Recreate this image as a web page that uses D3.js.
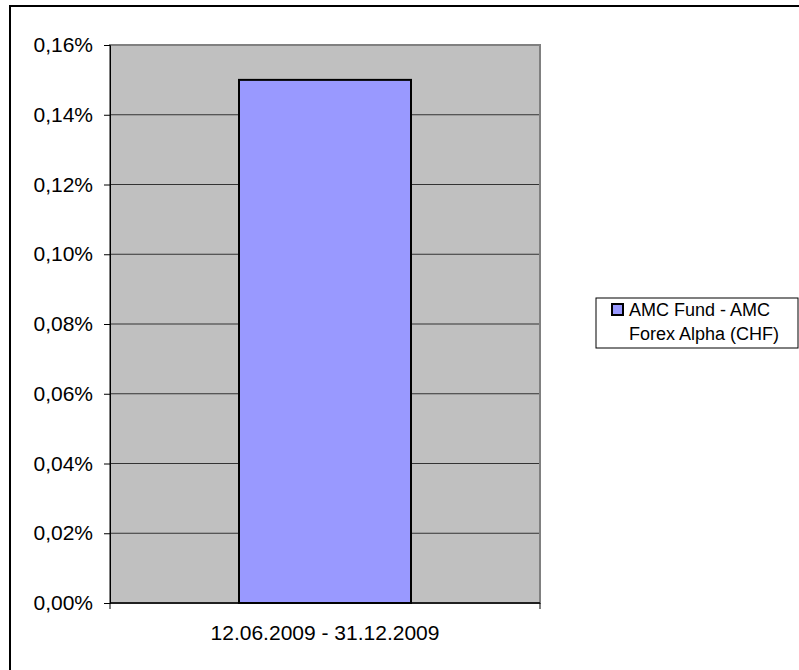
<!DOCTYPE html>
<html>
<head>
<meta charset="utf-8">
<script src="https://cdn.jsdelivr.net/npm/d3@7"></script>
<style>
  body { margin: 0; background: #fff; }
  svg { display: block; font-family: "Liberation Sans", Arial, sans-serif; }
</style>
</head>
<body>
<div id="chart"></div>
<script>
// chart data
var categories = ["12.06.2009 - 31.12.2009"];
var seriesName = ["AMC Fund - AMC", "Forex Alpha (CHF)"];
var values = [0.0015];
var yTicks = [0, 0.0002, 0.0004, 0.0006, 0.0008, 0.001, 0.0012, 0.0014, 0.0016];

var width = 799,
    height = 670;

var plot = {left: 110, right: 540, top: 45, bottom: 603};

var svg = d3.select("#chart").append("svg")
    .attr("width", width)
    .attr("height", height);

// outer frame (right and bottom edges fall outside the picture)
svg.append("rect")
    .attr("x", 10).attr("y", 6)
    .attr("width", 900).attr("height", 900)
    .attr("fill", "none")
    .attr("stroke", "#000")
    .attr("stroke-width", 2);

var x = d3.scaleBand()
    .domain(categories)
    .range([plot.left, plot.right])
    .paddingInner(0)
    .paddingOuter(0.75);

var y = d3.scaleLinear()
    .domain([0, 0.0016])
    .range([plot.bottom, plot.top]);

var fmt = function(d) { return (d * 100).toFixed(2).replace(".", ",") + "%"; };

// plot background
svg.append("rect")
    .attr("x", plot.left).attr("y", plot.top)
    .attr("width", plot.right - plot.left)
    .attr("height", plot.bottom - plot.top)
    .attr("fill", "#c0c0c0");

// gridlines
svg.append("g").selectAll("line")
    .data(yTicks.slice(1))
    .enter().append("line")
    .attr("x1", plot.left).attr("x2", plot.right)
    .attr("y1", function(d) { return y(d); })
    .attr("y2", function(d) { return y(d); })
    .attr("stroke", "#333")
    .attr("stroke-width", 1);

// plot border
svg.append("rect")
    .attr("x", plot.left).attr("y", plot.top)
    .attr("width", plot.right - plot.left)
    .attr("height", plot.bottom - plot.top)
    .attr("fill", "none")
    .attr("stroke", "#808080")
    .attr("stroke-width", 2);

// bars
svg.append("g").selectAll("rect")
    .data(values)
    .enter().append("rect")
    .attr("x", function(d, i) { return x(categories[i]); })
    .attr("y", function(d) { return y(d); })
    .attr("width", x.bandwidth())
    .attr("height", function(d) { return y(0) - y(d); })
    .attr("fill", "#9999ff")
    .attr("stroke", "#000")
    .attr("stroke-width", 2);

// y axis
var yAxis = svg.append("g")
    .attr("transform", "translate(" + plot.left + ",0)")
    .call(d3.axisLeft(y).tickValues(yTicks).tickFormat(fmt).tickSize(6).tickPadding(11));
yAxis.select(".domain").attr("stroke", "#000").attr("stroke-width", 1);
yAxis.selectAll(".tick line").attr("stroke", "#000");
yAxis.selectAll("text").attr("font-size", 21).attr("fill", "#000")
    .attr("font-family", "Liberation Sans, Arial, sans-serif");

// x axis
svg.append("line")
    .attr("x1", plot.left).attr("x2", plot.right)
    .attr("y1", plot.bottom).attr("y2", plot.bottom)
    .attr("stroke", "#000").attr("stroke-width", 1.5);
svg.append("g").selectAll("line")
    .data([plot.left, plot.right])
    .enter().append("line")
    .attr("x1", function(d) { return d; }).attr("x2", function(d) { return d; })
    .attr("y1", plot.bottom).attr("y2", plot.bottom + 6)
    .attr("stroke", "#000");
svg.append("g").selectAll("text")
    .data(categories)
    .enter().append("text")
    .attr("x", function(d) { return x(d) + x.bandwidth() / 2; })
    .attr("y", 640)
    .attr("text-anchor", "middle")
    .attr("font-size", 21)
    .text(function(d) { return d; });

// legend
var lg = svg.append("g").attr("transform", "translate(596,298)");
lg.append("rect")
    .attr("width", 202).attr("height", 50)
    .attr("fill", "#fff")
    .attr("stroke", "#000")
    .attr("stroke-width", 1);
lg.append("rect")
    .attr("x", 16).attr("y", 6)
    .attr("width", 11).attr("height", 11)
    .attr("fill", "#9999ff")
    .attr("stroke", "#000")
    .attr("stroke-width", 2);
lg.selectAll("text.lbl")
    .data(seriesName)
    .enter().append("text")
    .attr("class", "lbl")
    .attr("x", 33)
    .attr("y", function(d, i) { return 18 + i * 24; })
    .attr("font-size", 18)
    .text(function(d) { return d; });
</script>
</body>
</html>
